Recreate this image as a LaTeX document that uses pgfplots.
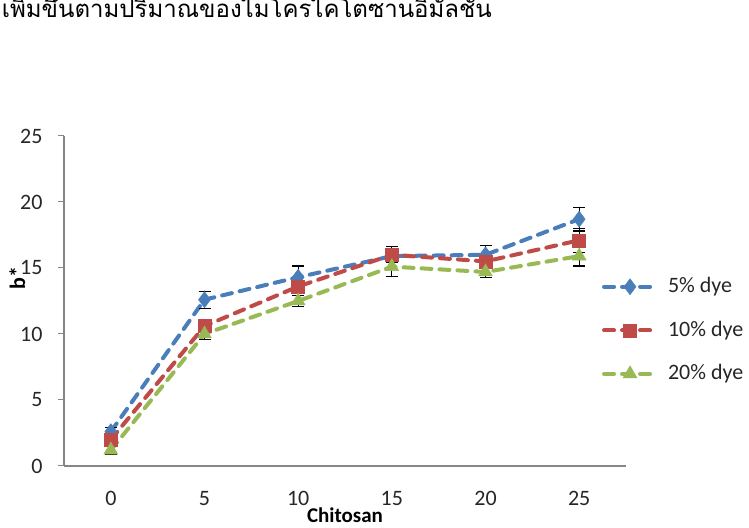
\documentclass[border=0pt]{standalone}
\usepackage{fontspec}
\setmainfont{Carlito}
\newfontfamily\thaifont[Script=Thai]{Loma}
\usepackage{pgfplots}
\pgfplotsset{compat=1.18}
\definecolor{cblue}{HTML}{4A7EBB}
\definecolor{cred}{HTML}{BE4B48}
\definecolor{cgreen}{HTML}{98B954}
\definecolor{axgray}{HTML}{868686}

\pgfplotstableread{
x y e
0 2.6 0.3
1 12.6 0.65
2 14.3 0.85
3 15.9 0.4
4 16.0 0.7
5 18.7 0.9
}\blue
\pgfplotstableread{
x y e
0 2.0 0.3
1 10.6 0.4
2 13.6 0.7
3 16.0 0.6
4 15.5 0.4
5 17.1 0.9
}\red
\pgfplotstableread{
x y e
0 1.2 0.3
1 10.0 0.4
2 12.5 0.4
3 15.1 0.75
4 14.7 0.4
5 15.9 0.75
}\green

\begin{document}
\fontsize{22bp}{26bp}\selectfont
\begin{tikzpicture}[x=1bp,y=1bp]
\node[anchor=base east, inner sep=0, font=\thaifont\fontsize{24bp}{28bp}\selectfont] at (492,510) {เพิ่มขึ้นตามปริมาณของไมโครไคโตซานอิมัลชัน};
\begin{axis}[
  at={(64bp,62bp)}, anchor=south west,
  scale only axis, width=562bp, height=330bp,
  xmin=-0.5, xmax=5.5, ymin=0, ymax=25,
  xtick={0,1,2,3,4,5}, xticklabels={0,5,10,15,20,25},
  ytick={0,5,10,15,20,25},
  axis x line*=bottom, axis y line*=left,
  axis line style={axgray, line width=1.2bp, -},
  x axis line style={line width=1.5bp},
  major tick length=6bp,
  xtick style={draw=none},
  ytick style={axgray, line width=1bp},
  tick align=outside,
  /pgf/number format/assume math mode=true,
  ticklabel style={font=\fontsize{22bp}{26bp}\selectfont, text=black!85},
  xticklabel style={yshift=-12bp},
  yticklabel style={xshift=-8bp},
  every axis y label/.style={at={(axis description cs:-0.083,0.57)}, rotate=90, anchor=center, font=\bfseries\fontsize{22bp}{26bp}\selectfont},
  every axis x label/.style={at={(axis description cs:0.5,-0.148)}, anchor=center, font=\bfseries\fontsize{21bp}{25bp}\selectfont},
  xlabel={Chitosan}, ylabel={b*},
  clip=false,
  legend style={at={(axis description cs:0.957,0.578)}, anchor=north west, draw=none, fill=none, inner sep=0pt, row sep=21bp, column sep=8bp, font=\fontsize{22bp}{26bp}\selectfont, text=black!85},
  legend cell align=left,
  legend image code/.code={\draw[mark repeat=2,mark phase=2,#1] plot coordinates {(0bp,0bp) (26bp,0bp) (52bp,0bp)};},
  every axis plot/.append style={line width=4bp, dash pattern=on 10bp off 8bp, line cap=round},
  error bars/y dir=both, error bars/y explicit,
  error bars/error bar style={black, line width=1.1bp, solid},
  error bars/error mark options={rotate=90, mark size=6bp, black, line width=1.1bp, solid},
]
\addplot[cblue, mark=diamond*, mark size=8bp, mark options={solid, fill=cblue, draw=cblue, line width=0.5bp}] table[x=x, y=y, y error=e] {\blue};
\addlegendentry{5\% dye}
\addplot[cred, mark=square*, mark size=6.5bp, mark options={solid, fill=cred, draw=cred, line width=0.5bp}] table[x=x, y=y, y error=e] {\red};
\addlegendentry{10\% dye}
\addplot[cgreen, mark=triangle*, mark size=8bp, mark options={solid, fill=cgreen, draw=cgreen, line width=0.5bp}] table[x=x, y=y, y error=e] {\green};
\addlegendentry{20\% dye}
\end{axis}
\pgfresetboundingbox
\path[use as bounding box] (0,0) rectangle (749,528);
\end{tikzpicture}
\end{document}
